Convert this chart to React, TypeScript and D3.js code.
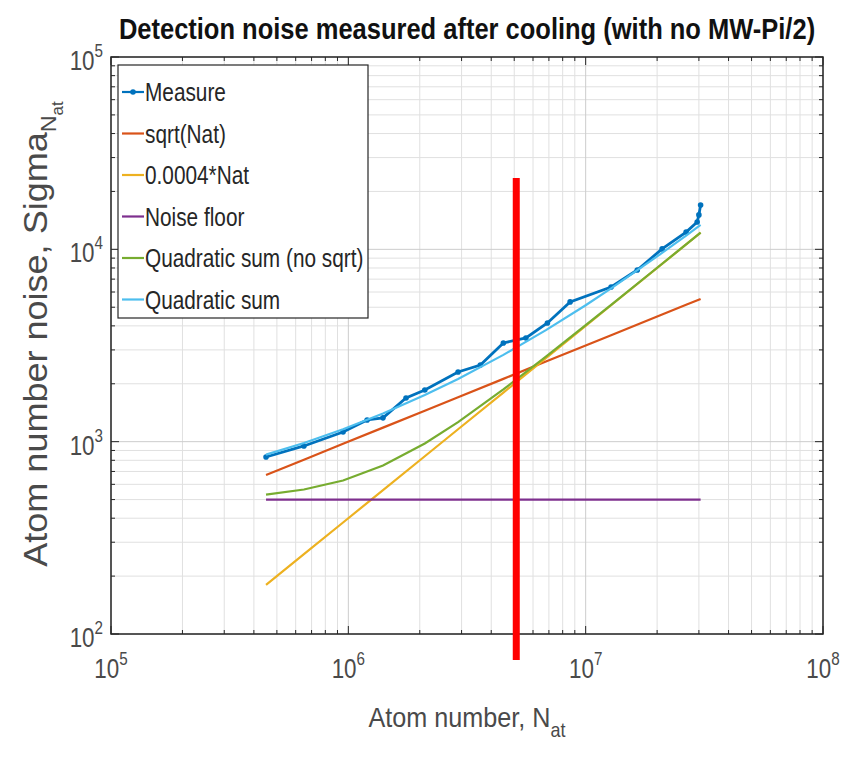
import React from 'react';
import * as d3 from 'd3';

// atom numbers of the measurement points
const measureN = [4.5e5, 6.5e5, 9.5e5, 1.2e6, 1.4e6, 1.75e6, 2.1e6, 2.9e6, 3.6e6, 4.5e6, 5.6e6, 6.9e6, 8.6e6, 1.28e7, 1.65e7, 2.1e7, 2.65e7, 2.95e7, 3.0e7, 3.05e7];
const measureSigma = [832, 950, 1123, 1297, 1330, 1687, 1857, 2303, 2505, 3260, 3460, 4140, 5330, 6370, 7810, 10050, 12300, 13880, 15100, 17000];

// atom numbers where the model curves were read
const modelN = [4.5e5, 6.5e5, 9.5e5, 1.4e6, 2.1e6, 2.9e6, 4.5e6, 6.8e6, 1.0e7, 1.28e7, 2.05e7, 2.65e7, 3.05e7];
const sqrtSigma = [671, 806, 975, 1183, 1449, 1703, 2121, 2608, 3162, 3578, 4528, 5148, 5523];
const linSigma = [180, 260, 380, 560, 840, 1160, 1800, 2720, 4000, 5120, 8200, 10600, 12200];
const floorSigma = [500, 500, 500, 500, 500, 500, 500, 500, 500, 500, 500, 500, 500];
const quadNoSqrtSigma = [531, 564, 628, 751, 978, 1263, 1868, 2766, 4031, 5144, 8215, 10612, 12210];
const quadSigma = [856, 984, 1159, 1401, 1748, 2120, 2827, 3801, 5123, 6266, 9380, 11795, 13401];

const legendLabels = ['Measure', 'sqrt(Nat)', '0.0004*Nat', 'Noise floor', 'Quadratic sum (no sqrt)', 'Quadratic sum'];
const colors = ['#0072BD', '#D95319', '#EDB120', '#7E2F8E', '#77AC30', '#4DBEEE'];

const xTickExp = [5, 6, 7, 8];
const yTickExp = [2, 3, 4, 5];

// red marker line drawn on the figure
const markerN = 5.1e6;
const markerTop = 23500;

const W = 858;
const H = 762;
const font = '"Liberation Sans", Arial, sans-serif';
const NARROW = 0.8;

// narrow-looking text: regular font squeezed horizontally
function NText({ x, y, anchor = 'start', size, children, fill = '#4a4a4a', weight = 'normal', rotate = 0, sx = NARROW }: any) {
  return (
    <text
      transform={`translate(${x},${y}) rotate(${rotate}) scale(${sx},1)`}
      textAnchor={anchor}
      fontSize={size}
      fontWeight={weight}
      fill={fill}
    >
      {children}
    </text>
  );
}

export default function App() {
  const x = d3.scaleLog().domain([1e5, 1e8]).range([111, 823]);
  const y = d3.scaleLog().domain([1e2, 1e5]).range([634, 57]);
  const [x0, x1] = x.range();
  const [y0, y1] = y.range();

  const minorX: number[] = [];
  for (let e = 5; e < 8; e++) for (let k = 2; k < 10; k++) minorX.push(k * Math.pow(10, e));
  const minorY: number[] = [];
  for (let e = 2; e < 5; e++) for (let k = 2; k < 10; k++) minorY.push(k * Math.pow(10, e));
  const majorX = xTickExp.map(e => Math.pow(10, e));
  const majorY = yTickExp.map(e => Math.pow(10, e));

  const line = d3.line<[number, number]>().x(d => x(d[0])).y(d => y(d[1]));
  const zip = (a: number[], b: number[]) => a.map((v, i) => [v, b[i]] as [number, number]);

  const series = [
    zip(modelN, sqrtSigma),
    zip(modelN, linSigma),
    zip(modelN, floorSigma),
    zip(modelN, quadNoSqrtSigma),
    zip(modelN, quadSigma),
  ];

  const axisColor = '#262626';
  const labelColor = '#4a4a4a';

  return (
    <svg width={W} height={H} style={{ position: 'absolute', left: 0, top: 0, background: '#fff' }} fontFamily={font}>
      {/* grid */}
      <g stroke="#e0e0e0" strokeWidth={1}>
        {minorX.map(v => <line key={'mx' + v} x1={x(v)} x2={x(v)} y1={y0} y2={y1} />)}
        {minorY.map(v => <line key={'my' + v} y1={y(v)} y2={y(v)} x1={x0} x2={x1} />)}
      </g>
      <g stroke="#cccccc" strokeWidth={1}>
        {majorX.map(v => <line key={'Mx' + v} x1={x(v)} x2={x(v)} y1={y0} y2={y1} />)}
        {majorY.map(v => <line key={'My' + v} y1={y(v)} y2={y(v)} x1={x0} x2={x1} />)}
      </g>

      {/* data */}
      <path d={line(zip(measureN, measureSigma)) || ''} fill="none" stroke={colors[0]} strokeWidth={2.8} />
      {measureN.map((n, i) => <circle key={'m' + i} cx={x(n)} cy={y(measureSigma[i])} r={2.8} fill={colors[0]} />)}
      {series.map((s, i) => (
        <path key={'s' + i} d={line(s) || ''} fill="none" stroke={colors[i + 1]} strokeWidth={2.2} />
      ))}

      {/* ticks */}
      <g stroke={axisColor} strokeWidth={1}>
        {minorX.map(v => (
          <g key={'tx' + v}>
            <line x1={x(v)} x2={x(v)} y1={y0} y2={y0 - 4} />
            <line x1={x(v)} x2={x(v)} y1={y1} y2={y1 + 4} />
          </g>
        ))}
        {majorX.map(v => (
          <g key={'Tx' + v}>
            <line x1={x(v)} x2={x(v)} y1={y0} y2={y0 - 8} />
            <line x1={x(v)} x2={x(v)} y1={y1} y2={y1 + 8} />
          </g>
        ))}
        {minorY.map(v => (
          <g key={'ty' + v}>
            <line y1={y(v)} y2={y(v)} x1={x0} x2={x0 + 4} />
            <line y1={y(v)} y2={y(v)} x1={x1} x2={x1 - 4} />
          </g>
        ))}
        {majorY.map(v => (
          <g key={'Ty' + v}>
            <line y1={y(v)} y2={y(v)} x1={x0} x2={x0 + 8} />
            <line y1={y(v)} y2={y(v)} x1={x1} x2={x1 - 8} />
          </g>
        ))}
      </g>
      <rect x={x0} y={y1} width={x1 - x0} height={y0 - y1} fill="none" stroke={axisColor} strokeWidth={1.5} />

      {/* tick labels */}
      {xTickExp.map(e => (
        <NText key={'xl' + e} x={x(Math.pow(10, e))} y={y0 + 44} anchor="middle" size={28} fill={labelColor}>
          10<tspan fontSize={19} dy={-13}>{e}</tspan>
        </NText>
      ))}
      {yTickExp.map(e => (
        <NText key={'yl' + e} x={x0 - 8} y={y(Math.pow(10, e)) + 13} anchor="end" size={28} fill={labelColor}>
          10<tspan fontSize={19} dy={-13}>{e}</tspan>
        </NText>
      ))}

      {/* axis labels */}
      <NText x={(x0 + x1) / 2} y={727} anchor="middle" size={28} fill={labelColor} sx={0.9}>
        Atom number, N<tspan fontSize={20} dy={10}>at</tspan>
      </NText>
      <NText x={47} y={334} rotate={-90} anchor="middle" size={34} fill={labelColor} sx={1.06}>
        Atom number noise, Sigma<tspan fontSize={22} dy={9}>N</tspan><tspan fontSize={16} dy={7}>at</tspan>
      </NText>

      {/* title */}
      <NText x={(x0 + x1) / 2} y={39} anchor="middle" size={30} weight="bold" fill="#111" sx={0.85}>
        Detection noise measured after cooling (with no MW-Pi/2)
      </NText>

      {/* legend */}
      <rect x={118} y={65} width={250} height={253} fill="#fff" stroke={axisColor} strokeWidth={1.2} />
      {legendLabels.map((lab, i) => {
        const ly = 92 + i * 41.5;
        return (
          <g key={'lg' + i}>
            <line x1={122} x2={144} y1={ly} y2={ly} stroke={colors[i]} strokeWidth={2.2} />
            {i === 0 && <circle cx={133} cy={ly} r={2.8} fill={colors[0]} />}
            <NText x={145} y={ly + 9} size={26} fill={axisColor} sx={0.8}>{lab}</NText>
          </g>
        );
      })}

      {/* red marker */}
      <line x1={x(markerN)} x2={x(markerN)} y1={y(markerTop)} y2={y0 + 26} stroke="#ff0000" strokeWidth={7} />
    </svg>
  );
}
